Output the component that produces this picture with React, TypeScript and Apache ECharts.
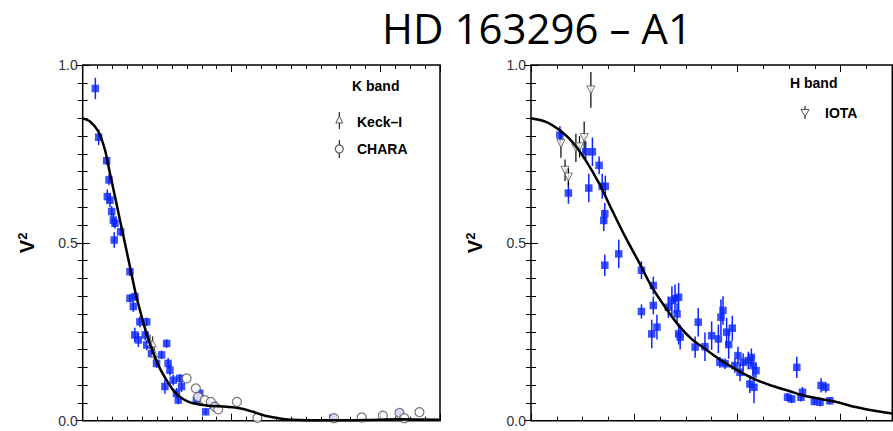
import React, { useEffect, useRef } from "react";
import * as echarts from "echarts";

// ---------- data ----------
// K band model curve: [baseline, V2]
const kModel: [number, number][] = [
  [0, 0.85], [2.46, 0.841], [5.25, 0.813], [7.49, 0.761], [9.16, 0.695], [10.84, 0.63],
  [12.51, 0.564], [14.19, 0.499], [15.87, 0.433], [17.54, 0.367], [19.22, 0.311],
  [20.89, 0.26], [22.57, 0.217], [24.25, 0.18], [25.92, 0.147], [28.16, 0.114],
  [30.39, 0.086], [32.63, 0.067], [34.86, 0.056], [37.09, 0.049], [41.56, 0.043],
  [48.27, 0.039], [52.74, 0.035], [57.21, 0.025], [61.68, 0.013], [67.26, 0.005],
  [72.85, 0.002], [84, 0.001], [95.2, 0.002], [106.4, 0.004], [120, 0.003],
];
// K band blue squares: [baseline, V2, error]
const kBlue: [number, number, number][] = [
  [4.25, 0.934, 0.03], [5.36, 0.797, 0.022], [8.04, 0.731, 0.012], [8.83, 0.677, 0.015],
  [8.27, 0.63, 0.02], [9.16, 0.62, 0.02], [9.72, 0.588, 0.015], [10.28, 0.564, 0.02],
  [10.84, 0.555, 0.015], [10.6, 0.508, 0.022], [12.74, 0.531, 0.012], [15.87, 0.419, 0.012],
  [15.87, 0.344, 0.012], [17.54, 0.349, 0.012], [17.0, 0.321, 0.015], [19.2, 0.278, 0.015],
  [21.5, 0.278, 0.012], [17.5, 0.241, 0.02], [18.7, 0.227, 0.02], [21.0, 0.241, 0.015],
  [21.5, 0.213, 0.015], [23.1, 0.189, 0.012], [26.5, 0.185, 0.012], [28.2, 0.217, 0.012],
  [24.8, 0.161, 0.012], [28.7, 0.161, 0.015], [29.3, 0.142, 0.015], [27.6, 0.096, 0.02],
  [30.4, 0.114, 0.015], [32.6, 0.119, 0.012], [31.5, 0.077, 0.015], [32.1, 0.058, 0.012],
  [33.2, 0.096, 0.015], [38.2, 0.058, 0.012], [39.3, 0.077, 0.012], [41.3, 0.025, 0.008],
  [43.8, 0.044, 0.01], [84.0, 0.007, 0.005], [106.4, 0.021, 0.006],
];
const kKeck: [number, number, number][] = [
  [22.6, 0.222, 0.02], [23.5, 0.217, 0.02], [24.0, 0.189, 0.02],
];
const kChara: [number, number][] = [
  [34.9, 0.119], [38.0, 0.091], [38.8, 0.067], [41.0, 0.058], [43.0, 0.053], [44.4, 0.039],
  [45.5, 0.032], [51.8, 0.053], [58.7, 0.008], [84.4, 0.007], [93.7, 0.009], [100.8, 0.014],
  [106.4, 0.022], [108.0, 0.007], [113.1, 0.024],
];

// H band model curve
const hModel: [number, number][] = [
  [0, 0.85], [2.9, 0.84], [5.5, 0.817], [8.0, 0.784], [10.6, 0.732], [13.2, 0.667],
  [15.7, 0.592], [18.3, 0.516], [20.9, 0.446], [23.4, 0.376], [26.0, 0.319], [28.6, 0.268],
  [31.1, 0.23], [33.7, 0.202], [36.9, 0.169], [40.1, 0.141], [43.3, 0.117], [46.5, 0.099],
  [49.7, 0.085], [53.0, 0.07], [56.2, 0.061], [59.4, 0.052], [62.6, 0.039], [65.8, 0.03],
  [70, 0.02],
];
const hBlue: [number, number, number][] = [
  [5.6, 0.803, 0.025], [7.25, 0.64, 0.03], [10.6, 0.756, 0.03], [11.9, 0.756, 0.04],
  [13.2, 0.718, 0.025], [11.2, 0.654, 0.04], [13.8, 0.659, 0.035], [14.4, 0.659, 0.03],
  [14.3, 0.582, 0.03], [14.1, 0.563, 0.03], [17.0, 0.469, 0.04], [14.3, 0.437, 0.03],
  [21.4, 0.423, 0.025], [21.4, 0.307, 0.02], [23.7, 0.38, 0.025], [23.7, 0.324, 0.025],
  [23.4, 0.244, 0.04], [24.4, 0.263, 0.035], [26.6, 0.319, 0.03], [27.3, 0.338, 0.04],
  [27.9, 0.343, 0.04], [28.6, 0.347, 0.04], [28.3, 0.3, 0.03], [28.6, 0.244, 0.03],
  [28.9, 0.235, 0.035], [31.8, 0.207, 0.03], [32.4, 0.277, 0.04], [33.7, 0.208, 0.04],
  [35.0, 0.239, 0.04], [36.3, 0.23, 0.04], [36.8, 0.291, 0.05], [37.2, 0.31, 0.04],
  [37.9, 0.249, 0.04], [38.3, 0.214, 0.04], [39.0, 0.26, 0.035], [36.6, 0.164, 0.015],
  [37.6, 0.16, 0.015], [40.1, 0.183, 0.025], [39.5, 0.155, 0.02], [40.5, 0.136, 0.025],
  [41.1, 0.164, 0.025], [42.1, 0.169, 0.025], [42.7, 0.178, 0.025], [43.0, 0.155, 0.03],
  [42.4, 0.103, 0.025], [43.2, 0.094, 0.045], [43.6, 0.141, 0.02], [49.7, 0.066, 0.012],
  [50.5, 0.061, 0.012], [51.5, 0.15, 0.03], [52.3, 0.066, 0.012], [52.6, 0.08, 0.015],
  [54.9, 0.054, 0.01], [56.0, 0.052, 0.012], [56.2, 0.099, 0.02], [57.1, 0.094, 0.015],
  [57.9, 0.056, 0.01],
];
const hIota: [number, number, number][] = [
  [5.8, 0.779, 0.04], [6.6, 0.704, 0.03], [7.25, 0.685, 0.025], [8.7, 0.767, 0.04],
  [9.4, 0.77, 0.03], [10.3, 0.796, 0.045], [11.6, 0.93, 0.05],
];

const yTicks = [0, 0.5, 1.0];
const kLabelStep = 50;
const hLabelStep = 20;
const title = "HD 163296 – A1";

// ---------- helpers ----------
const FONT = "Liberation Sans, Arial, sans-serif";
const BLUE = "#0a26ff";

function xAxes(grid: number, max: number, labelStep: number) {
  const base = {
    type: "value" as const, gridIndex: grid, min: 0, max,
    splitLine: { show: false }, axisLine: { show: false },
  };
  return [
    {
      ...base, position: "bottom", interval: 5,
      axisTick: { inside: true, length: 4, lineStyle: { color: "#000", width: 1 } },
      axisLabel: {
        margin: 8, color: "#444", fontSize: 14, fontFamily: FONT,
        formatter: (v: number) => (Math.abs(v % labelStep) < 1e-6 ? String(v) : ""),
      },
    },
    {
      ...base, position: "bottom", interval: labelStep,
      axisTick: { inside: true, length: 7, lineStyle: { color: "#000", width: 1 } },
      axisLabel: { show: false },
    },
    {
      ...base, position: "top", interval: 5,
      axisTick: { inside: true, length: 4, lineStyle: { color: "#000", width: 1 } },
      axisLabel: { show: false },
    },
    {
      ...base, position: "top", interval: labelStep,
      axisTick: { inside: true, length: 7, lineStyle: { color: "#000", width: 1 } },
      axisLabel: { show: false },
    },
  ];
}

function yAxes(grid: number, nameGap: number) {
  const base = {
    type: "value" as const, gridIndex: grid, min: yTicks[0], max: yTicks[yTicks.length - 1],
    interval: yTicks[1] - yTicks[0],
    splitLine: { show: false }, axisLine: { show: false },
    axisTick: { inside: true, length: 7, lineStyle: { color: "#000", width: 1 } },
    minorTick: { show: true, splitNumber: 10, length: 5, lineStyle: { color: "#000", width: 1 } },
  };
  return [
    {
      ...base, position: "left",
      name: "{v|V}{s|2}", nameLocation: "middle", nameRotate: 90, nameGap,
      nameTextStyle: {
        color: "#000", fontFamily: FONT, fontWeight: "bold",
        rich: {
          v: { fontSize: 20, fontWeight: "bold", color: "#000", fontFamily: FONT, lineHeight: 22 },
          s: { fontSize: 13, fontWeight: "bold", color: "#000", fontFamily: FONT, verticalAlign: "top", lineHeight: 14 },
        },
      },
      axisLabel: {
        margin: 5, color: "#333", fontSize: 14, fontFamily: FONT,
        formatter: (v: number) => v.toFixed(1),
      },
    },
    { ...base, position: "right", axisLabel: { show: false } },
  ];
}

function errSeries(data: number[][], xi: number, yi: number, color: string, width: number) {
  return {
    type: "custom", xAxisIndex: xi, yAxisIndex: yi, data, silent: true, z: 2,
    encode: { x: 0, y: 1 },
    renderItem: (_p: any, api: any) => {
      const x = api.value(0), y = api.value(1), e = api.value(2);
      const a = api.coord([x, y - e]);
      const b = api.coord([x, y + e]);
      return {
        type: "line",
        shape: { x1: a[0], y1: a[1], x2: b[0], y2: b[1] },
        style: { stroke: color, lineWidth: width },
      };
    },
  };
}

export default function App() {
  const ref = useRef<HTMLDivElement>(null);
  useEffect(() => {
    if (!ref.current) return;
    const chart = echarts.init(ref.current, undefined, { renderer: "svg" });
    const legendText = (text: string, x: number, y: number) => ({
      type: "text", x, y, silent: true,
      style: { text, fill: "#000", font: `bold 14px ${FONT}`, textVerticalAlign: "middle" },
    });
    const gridBase = {
      show: true, borderColor: "#000", borderWidth: 1.5, backgroundColor: "transparent",
      containLabel: false, outerBoundsMode: "none",
    };
    chart.setOption({
      animation: false,
      backgroundColor: "#fff",
      grid: [
        { ...gridBase, left: 82.7, top: 65, width: 357.3, height: 355.7 },
        { ...gridBase, left: 531, top: 65, width: 361.3, height: 355.7 },
      ],
      xAxis: [...xAxes(0, 120, kLabelStep), ...xAxes(1, 70, hLabelStep)],
      yAxis: [...yAxes(0, 45), ...yAxes(1, 45)],
      series: [
        // K band
        errSeries(kBlue, 0, 0, BLUE, 1.5),
        { type: "scatter", xAxisIndex: 0, yAxisIndex: 0, data: kBlue.map((d) => [d[0], d[1]]), symbol: "rect", symbolSize: 7.5, itemStyle: { color: BLUE }, z: 3 },
        errSeries(kKeck, 0, 0, "#000", 1),
        { type: "scatter", xAxisIndex: 0, yAxisIndex: 0, data: kKeck.map((d) => [d[0], d[1]]), symbol: "triangle", symbolSize: 7, itemStyle: { color: "#fff", borderColor: "#666", borderWidth: 1 }, z: 4 },
        { type: "scatter", xAxisIndex: 0, yAxisIndex: 0, data: kChara, symbol: "circle", symbolSize: 9, itemStyle: { color: "#fff", borderColor: "#555", borderWidth: 1.2 }, z: 4 },
        { type: "line", xAxisIndex: 0, yAxisIndex: 0, data: kModel, smooth: 0.3, showSymbol: false, lineStyle: { color: "#000", width: 2.5 }, z: 5 },
        // H band
        errSeries(hBlue, 4, 2, BLUE, 1.5),
        { type: "scatter", xAxisIndex: 4, yAxisIndex: 2, data: hBlue.map((d) => [d[0], d[1]]), symbol: "rect", symbolSize: 7.5, itemStyle: { color: BLUE }, z: 3 },
        errSeries(hIota, 4, 2, "#000", 1.2),
        { type: "scatter", xAxisIndex: 4, yAxisIndex: 2, data: hIota.map((d) => [d[0], d[1]]), symbol: "triangle", symbolRotate: 180, symbolSize: 8, itemStyle: { color: "#fff", borderColor: "#555", borderWidth: 1 }, z: 4 },
        { type: "line", xAxisIndex: 4, yAxisIndex: 2, data: hModel, smooth: 0.3, showSymbol: false, lineStyle: { color: "#000", width: 2.5 }, z: 5 },
      ],
      graphic: [
        {
          type: "text", x: 537, y: 27, silent: true,
          style: { text: title, fill: "#000", font: `42px "Open Sans", sans-serif`, textAlign: "center", textVerticalAlign: "middle" },
        },
        legendText("K band", 352, 86),
        { type: "line", silent: true, shape: { x1: 339.3, y1: 112, x2: 339.3, y2: 129 }, style: { stroke: "#000", lineWidth: 1 } },
        { type: "polygon", silent: true, shape: { points: [[339.3, 116], [335.8, 123], [342.8, 123]] }, style: { fill: "#fff", stroke: "#555", lineWidth: 1 } },
        legendText("Keck–I", 357, 121.5),
        { type: "line", silent: true, shape: { x1: 339.3, y1: 140, x2: 339.3, y2: 158 }, style: { stroke: "#000", lineWidth: 1 } },
        { type: "circle", silent: true, shape: { cx: 339.3, cy: 149, r: 4 }, style: { fill: "#fff", stroke: "#555", lineWidth: 1.2 } },
        legendText("CHARA", 357, 149),
        legendText("H band", 790, 83),
        { type: "line", silent: true, shape: { x1: 805, y1: 106, x2: 805, y2: 119 }, style: { stroke: "#000", lineWidth: 1 } },
        { type: "polygon", silent: true, shape: { points: [[801, 109.5], [809, 109.5], [805, 116.5]] }, style: { fill: "#fff", stroke: "#555", lineWidth: 1 } },
        legendText("IOTA", 825, 113),
      ],
    });
    return () => chart.dispose();
  }, []);
  return (
    <div
      ref={ref}
      style={{ position: "absolute", left: 0, top: 0, width: 893, height: 431 }}
    />
  );
}
